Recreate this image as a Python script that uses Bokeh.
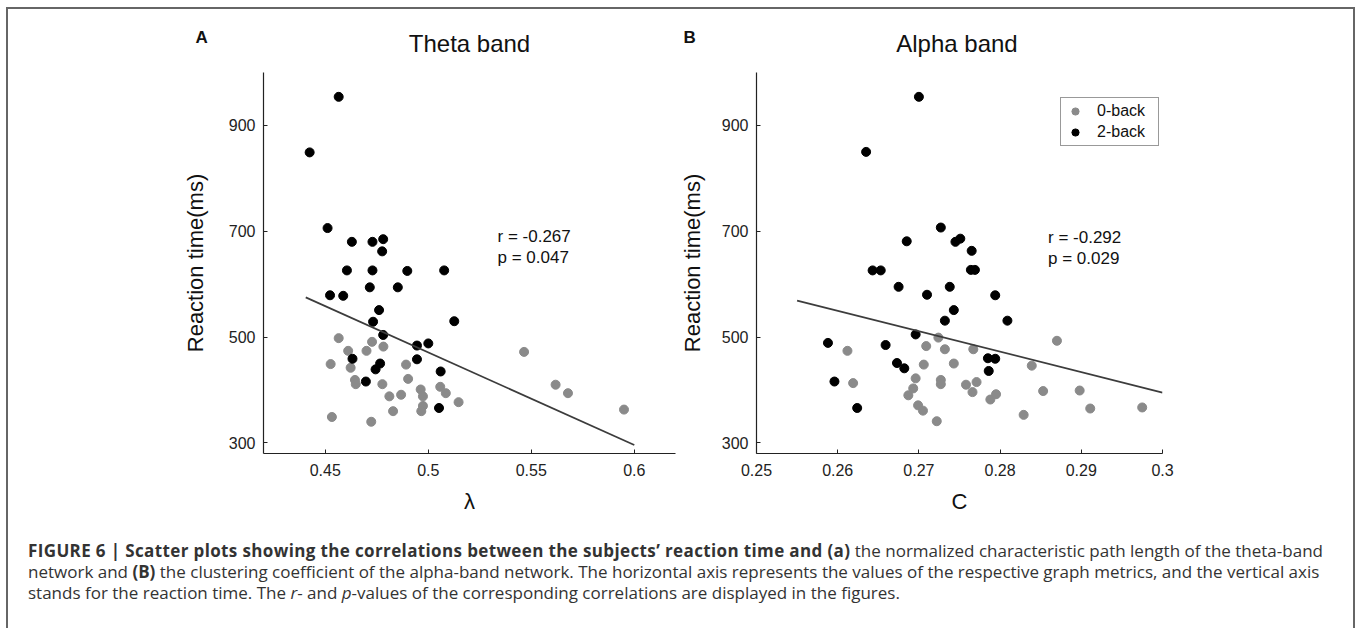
from bokeh.plotting import figure
from bokeh.models import Range1d, FixedTicker, Label, ColumnDataSource, Div
from bokeh.layouts import row, column
from bokeh.core.properties import value
from bokeh.embed import file_html
from bokeh.resources import INLINE

FONT = "Liberation Sans"

# ---------------- data ----------------
# Panel A: theta band, normalized characteristic path length (lambda)
theta_0back_lambda = [0.4565, 0.4526, 0.4611, 0.4623, 0.4644, 0.4648, 0.4532, 0.4700, 0.4727, 0.4782,
                      0.4777, 0.4723, 0.4811, 0.4829, 0.4868, 0.4892, 0.4902, 0.4963, 0.4974, 0.4974,
                      0.4966, 0.5058, 0.5085, 0.5147, 0.5465, 0.5618, 0.5678, 0.5950]
theta_0back_rt = [498, 449, 474, 442, 419, 411, 349, 474, 491, 482, 411, 340, 388, 360, 391, 448, 421,
                  401, 388, 370, 360, 406, 394, 377, 472, 410, 394, 363]
theta_2back_lambda = [0.4565, 0.4424, 0.4511, 0.4629, 0.4729, 0.4781, 0.4776, 0.4605, 0.4729, 0.4898,
                      0.5077, 0.4523, 0.4587, 0.4716, 0.4852, 0.4761, 0.4732, 0.5126, 0.4781, 0.4945,
                      0.5000, 0.4632, 0.4945, 0.4766, 0.4744, 0.4697, 0.5060, 0.5052]
theta_2back_rt = [954, 849, 706, 680, 680, 685, 662, 626, 626, 625, 626, 579, 578, 594, 594, 551, 529,
                  530, 504, 484, 488, 459, 458, 450, 439, 416, 435, 366]
theta_fit_lambda = [0.4405, 0.600]
theta_fit_rt = [575, 296]

# Panel B: alpha band, clustering coefficient (C)
alpha_0back_c = [0.2724, 0.2612, 0.2709, 0.2732, 0.2767, 0.2870, 0.2619, 0.2706, 0.2743, 0.2696,
                 0.2693, 0.2687, 0.2699, 0.2705, 0.2727, 0.2727, 0.2722, 0.2758, 0.2771, 0.2766,
                 0.2788, 0.2795, 0.2839, 0.2829, 0.2853, 0.2898, 0.2911, 0.2975]
alpha_0back_rt = [499, 474, 483, 477, 477, 493, 413, 448, 450, 422, 403, 390, 371, 361, 419, 411, 341,
                  410, 415, 396, 382, 392, 446, 353, 398, 399, 365, 367]
alpha_2back_c = [0.2700, 0.2635, 0.2727, 0.2685, 0.2745, 0.2751, 0.2765, 0.2643, 0.2653, 0.2764,
                 0.2769, 0.2675, 0.2738, 0.2710, 0.2794, 0.2743, 0.2732, 0.2809, 0.2696, 0.2588,
                 0.2659, 0.2785, 0.2794, 0.2673, 0.2682, 0.2786, 0.2596, 0.2624]
alpha_2back_rt = [954, 850, 707, 681, 680, 686, 663, 626, 626, 627, 627, 595, 595, 580, 579, 551, 531,
                  531, 505, 489, 485, 460, 459, 451, 441, 436, 416, 366]
alpha_fit_c = [0.255, 0.300]
alpha_fit_rt = [569, 395]

rt_ticks = [300, 500, 700, 900]
theta_ticks = [0.45, 0.5, 0.55, 0.6]
theta_tick_labels = ["0.45", "0.5", "0.55", "0.6"]
alpha_ticks = [0.25, 0.26, 0.27, 0.28, 0.29, 0.3]
alpha_tick_labels = ["0.25", "0.26", "0.27", "0.28", "0.29", "0.3"]

series_labels = ["0-back", "2-back"]
series_colors = ["#8a8a8a", "#000000"]
panel_titles = ["Theta band", "Alpha band"]
panel_letters = ["A", "B"]
stats_theta = ["r = -0.267", "p = 0.047"]
stats_alpha = ["r = -0.292", "p = 0.029"]

# ---------------- layout geometry (pixels) ----------------
HEADER_H = 63
A_W, A_ML, A_MR, A_FRAME_H, A_MB = 668, 255, 1, 383, 80
B_W, B_ML, B_MR, B_FRAME_H, B_MB = 677, 75, 191, 381, 82
A_FW = A_W - A_ML - A_MR
B_FW = B_W - B_ML - B_MR


def make_panel(width, height, mb, x_range, xticks, xlabels, xlab,
               x0, y0, x2, y2, fx, fy, stats, stats_x, stats_y, ylab_standoff, legend):
    p = figure(width=width, height=height, output_backend="svg", toolbar_location=None,
               x_range=Range1d(*x_range), y_range=Range1d(280, 1000),
               min_border_left=mb[0], min_border_right=mb[1],
               min_border_top=mb[2], min_border_bottom=mb[3])
    p.outline_line_color = None
    p.grid.visible = False
    p.background_fill_color = "white"
    p.border_fill_color = "white"

    for ax in (p.xaxis[0], p.yaxis[0]):
        ax.axis_line_color = "#222222"
        ax.axis_line_width = 1.2
        ax.major_tick_line_color = "#222222"
        ax.major_tick_in = 4
        ax.major_tick_out = 0
        ax.minor_tick_line_color = None
        ax.major_label_text_font = FONT
        ax.major_label_text_font_size = "16px"
        ax.major_label_text_color = "#222222"
        ax.axis_label_text_font = FONT
        ax.axis_label_text_font_size = "22px"
        ax.axis_label_text_font_style = "normal"
        ax.axis_label_text_color = "#111111"

    p.xaxis.ticker = FixedTicker(ticks=xticks)
    p.xaxis.major_label_overrides = {t: l for t, l in zip(xticks, xlabels)}
    p.xaxis.major_label_standoff = 10
    p.xaxis.axis_label = xlab
    p.xaxis.axis_label_standoff = 10

    p.yaxis.ticker = FixedTicker(ticks=rt_ticks)
    p.yaxis.major_label_standoff = 8
    p.yaxis.axis_label = "Reaction time(ms)"
    p.yaxis.axis_label_standoff = ylab_standoff

    src0 = ColumnDataSource(dict(x=x0, y=y0))
    src2 = ColumnDataSource(dict(x=x2, y=y2))
    kw0 = dict(size=9, fill_color=series_colors[0], line_color=series_colors[0])
    kw2 = dict(size=9, fill_color=series_colors[1], line_color=series_colors[1])
    if legend:
        kw0["legend_label"] = series_labels[0]
        kw2["legend_label"] = series_labels[1]
    p.scatter("x", "y", source=src0, **kw0)
    p.scatter("x", "y", source=src2, **kw2)
    p.line(fx, fy, line_color="#3c3c3c", line_width=1.7)

    for i, s in enumerate(stats):
        p.add_layout(Label(x=stats_x, y=stats_y[i], text=s, text_align="left",
                           text_baseline="alphabetic", text_font=FONT, text_font_size="17px",
                           text_color="#111111"))

    if legend:
        lg = p.legend[0]
        lg.location = (304, 307)
        lg.label_text_font = FONT
        lg.label_text_font_size = "16px"
        lg.label_text_color = "#111111"
        lg.border_line_color = "#333333"
        lg.border_line_width = 1.5
        lg.background_fill_alpha = 1
        lg.padding = 4
        lg.spacing = 3
        lg.margin = 0
        lg.label_height = 18
        lg.glyph_height = 18
        lg.glyph_width = 20
        lg.label_width = 57
        lg.label_standoff = 12
    return p


pA = make_panel(A_W, A_FRAME_H + A_MB, (A_ML, A_MR, 0, A_MB), (0.42, 0.62), theta_ticks,
                theta_tick_labels, "λ", theta_0back_lambda, theta_0back_rt, theta_2back_lambda,
                theta_2back_rt, theta_fit_lambda, theta_fit_rt, stats_theta, 0.5336,
                [690.0, 651.0], 18, False)
pB = make_panel(B_W, B_FRAME_H + B_MB, (B_ML, B_MR, 0, B_MB), (0.25, 0.30), alpha_ticks,
                alpha_tick_labels, "C", alpha_0back_c, alpha_0back_rt, alpha_2back_c,
                alpha_2back_rt, alpha_fit_c, alpha_fit_rt, stats_alpha, 0.2859,
                [688.0, 649.0], 14, True)

# header strip holding the panel titles and panel letters (pixel coordinates)
HW = A_W + B_W
header = figure(width=HW, height=HEADER_H, output_backend="svg", toolbar_location=None,
                x_range=Range1d(0, HW), y_range=Range1d(HEADER_H, 0), min_border=0)
header.axis.visible = False
header.grid.visible = False
header.outline_line_color = None
frame_centers = [A_ML + A_FW / 2, A_W + B_ML + B_FW / 2]
frame_lefts = [A_ML, A_W + B_ML]
header.text(x=frame_centers, y=[HEADER_H - 29] * 2, text=panel_titles, text_align="center",
            text_baseline="alphabetic", text_font=value(FONT), text_font_size=value("24px"),
            text_color="#111111")
header.text(x=[fl - 68 for fl in frame_lefts], y=[HEADER_H - 35] * 2, text=panel_letters,
            text_align="left", text_baseline="alphabetic", text_font=value(FONT),
            text_font_size=value("17px"), text_font_style="bold", text_color="#111111")

caption_html = (
    "<b style='letter-spacing:0.37px'>FIGURE 6 | Scatter plots showing the correlations between the "
    "subjects\u2019 reaction time and (a)</b>"
    " the normalized characteristic path length of the theta-band<br>"
    "network and <b>(B)</b> the clustering coefficient of the alpha-band network. The horizontal axis "
    "represents the values of the respective graph metrics, and the vertical axis<br>"
    "stands for the reaction time. The <i>r</i>- and <i>p</i>-values of the corresponding correlations "
    "are displayed in the figures."
)
caption = Div(text=caption_html, width=1320, height=88, margin=(5, 0, 0, 20),
              styles={"font-family": "Open Sans", "font-size": "17px", "line-height": "21px",
                      "color": "#333333", "white-space": "nowrap"})

layout = column(header, row(pA, pB), caption, margin=(7, 0, 0, 6),
                styles={"border-top": "2px solid #666666", "border-left": "2px solid #666666",
                        "border-right": "2px solid #666666"})

open("out.html", "w").write(file_html(layout, INLINE))
